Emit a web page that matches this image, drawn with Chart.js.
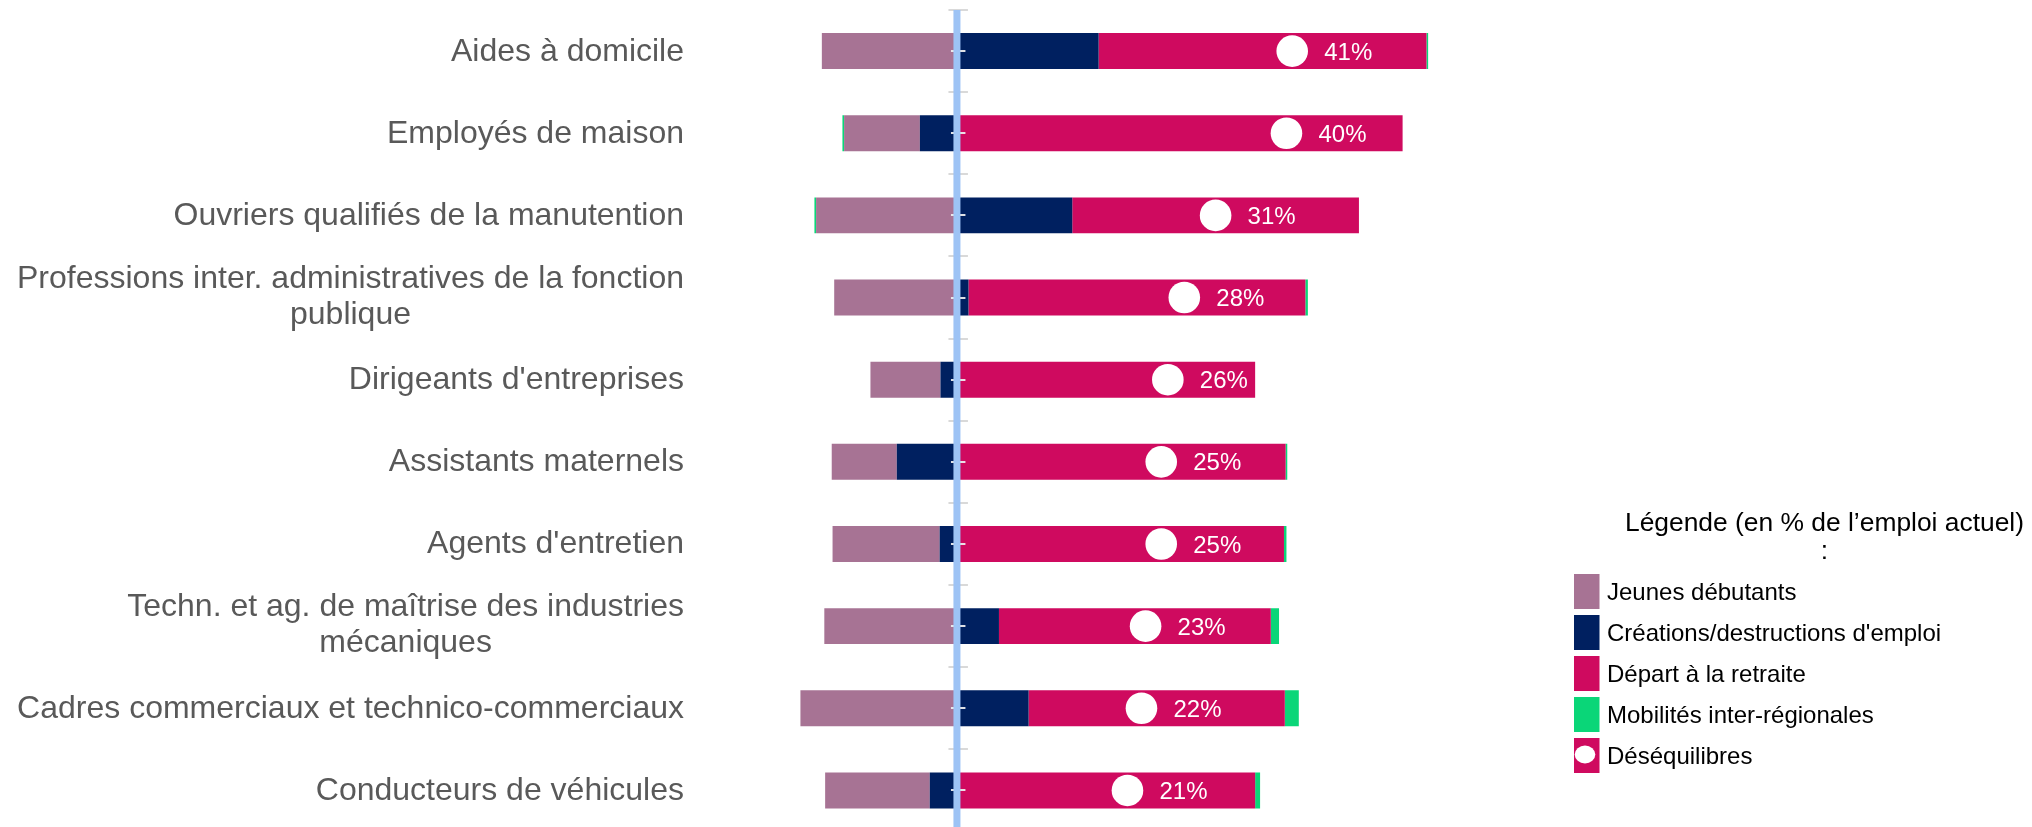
<!DOCTYPE html>
<html>
<head>
<meta charset="utf-8">
<script src="https://cdn.jsdelivr.net/npm/chart.js@4.4.1/dist/chart.umd.min.js"></script>
<style>
  html, body { margin: 0; padding: 0; overflow: hidden; background: #ffffff; }
  canvas { display: block; }
</style>
</head>
<body>
<canvas id="c" width="2032" height="840"></canvas>
<script>
// ---------- DATA ----------
const categories = [
  ['Aides à domicile'],
  ['Employés de maison'],
  ['Ouvriers qualifiés de la manutention'],
  ['Professions inter. administratives de la fonction', 'publique'],
  ["Dirigeants d'entreprises"],
  ['Assistants maternels'],
  ["Agents d'entretien"],
  ['Techn. et ag. de maîtrise des industries', 'mécaniques'],
  ['Cadres commerciaux et technico-commerciaux'],
  ['Conducteurs de véhicules']
];
const seriesNames = ['Jeunes débutants', "Créations/destructions d'emploi", 'Départ à la retraite', 'Mobilités inter-régionales', 'Déséquilibres'];
const legendTitle = ['Légende (en % de l’emploi actuel)', ':'];
const jeunesDebutants       = [-16.4, -9.2, -17.1, -14.9, -8.5, -7.9, -13.0, -16.1, -19.0, -12.7];
const creationsDestructions = [17.2, -4.5, 14.0, 1.4, -2.0, -7.3, -2.1, 5.1, 8.7, -3.3];
const departsRetraite       = [39.8, 54.1, 34.8, 40.9, 36.2, 39.9, 39.7, 33.0, 31.1, 36.2];
const mobilites             = [0.2, -0.2, -0.2, 0.3, 0.0, 0.2, 0.3, 1.0, 1.7, 0.6];
const desequilibres         = [40.7, 40.0, 31.4, 27.6, 25.6, 24.8, 24.8, 22.9, 22.4, 20.7];

// ---------- STYLE ----------
const FONT = '"Liberation Sans", Arial, Helvetica, sans-serif';
const COL_JEUNES = '#A77394';
const COL_CREA = '#002060';
const COL_RETR = '#CF0A5F';
const COL_MOB = '#0AD678';
const COL_AXIS = '#9DC3F5';
const LABEL_RIGHT = 684;

const barCommon = { stack: 'tot', barPercentage: 0.438, categoryPercentage: 1, borderWidth: 0, borderSkipped: false, indexAxis: 'y' };

const overlay = {
  id: 'overlay',
  afterDatasetsDraw(chart) {
    const ctx = chart.ctx, xs = chart.scales.x, ys = chart.scales.y;
    const x0 = xs.getPixelForValue(0);
    const top = ys.getPixelForValue(-0.5);
    const bottom = ys.getPixelForValue(categories.length - 0.5);
    ctx.save();
    // category boundary ticks (grey)
    ctx.strokeStyle = '#D9D9D9';
    ctx.lineWidth = 2;
    for (let i = 0; i <= categories.length; i++) {
      const y = Math.round(ys.getPixelForValue(i - 0.5));
      ctx.beginPath(); ctx.moveTo(x0 - 8.5, y); ctx.lineTo(x0 + 11, y); ctx.stroke();
    }
    // centre ticks (light)
    ctx.strokeStyle = 'rgba(236,236,236,0.95)';
    for (let i = 0; i < categories.length; i++) {
      const y = Math.round(ys.getPixelForValue(i));
      ctx.beginPath(); ctx.moveTo(x0 - 6, y); ctx.lineTo(x0 + 8.5, y); ctx.stroke();
    }
    // vertical zero axis
    ctx.fillStyle = COL_AXIS;
    ctx.fillRect(x0 - 3.5, top, 7, bottom - top);
    ctx.restore();
  },
  afterDraw(chart) {
    const ctx = chart.ctx, ys = chart.scales.y;
    ctx.save();
    // value labels next to the imbalance markers
    const meta = chart.getDatasetMeta(0);
    ctx.fillStyle = '#ffffff';
    ctx.font = '24px ' + FONT;
    ctx.textAlign = 'left';
    ctx.textBaseline = 'alphabetic';
    meta.data.forEach((pt, i) => {
      ctx.fillText(Math.round(desequilibres[i]) + '%', pt.x + 32, pt.y + 8.6);
    });
    // category labels
    ctx.fillStyle = '#595959';
    ctx.font = '32px ' + FONT;
    ctx.textAlign = 'center';
    categories.forEach((lines, i) => {
      const yc = ys.getPixelForValue(i);
      const w = Math.max(...lines.map(l => ctx.measureText(l).width));
      const cx = LABEL_RIGHT - w / 2;
      if (lines.length === 1) {
        ctx.fillText(lines[0], cx, yc + 9.5);
      } else {
        lines.forEach((l, k) => ctx.fillText(l, cx, yc + 8 + (k - (lines.length - 1) / 2) * 36));
      }
    });
    // legend
    ctx.fillStyle = '#000000';
    ctx.font = '26.4px ' + FONT;
    ctx.textAlign = 'center';
    ctx.fillText(legendTitle[0], 1824.5, 530.7);
    ctx.fillText(legendTitle[1], 1824.5, 558.5);
    const swCols = [COL_JEUNES, COL_CREA, COL_RETR, COL_MOB, COL_RETR];
    ctx.font = '24px ' + FONT;
    ctx.textAlign = 'left';
    seriesNames.forEach((name, k) => {
      const yt = 574 + k * 41;
      ctx.fillStyle = swCols[k];
      ctx.fillRect(1574, yt, 25.5, 35);
      if (k === 4) {
        ctx.fillStyle = '#ffffff';
        ctx.beginPath();
        ctx.ellipse(1585, yt + 16.5, 10.3, 8.9, 0, 0, Math.PI * 2);
        ctx.fill();
      }
      ctx.fillStyle = '#000000';
      ctx.fillText(name, 1607, yt + 26);
    });
    ctx.restore();
  }
};

new Chart(document.getElementById('c'), {
  type: 'bar',
  data: {
    labels: categories,
    datasets: [
      {
        type: 'scatter',
        label: seriesNames[4],
        indexAxis: 'y',
        xAxisID: 'xs',
        yAxisID: 'y',
        data: desequilibres.map((v, i) => ({ x: v, y: i })),
        pointRadius: 15.8,
        pointHoverRadius: 15.8,
        pointBorderWidth: 0,
        pointBackgroundColor: '#ffffff',
        showLine: false,
        clip: false
      },
      Object.assign({ label: seriesNames[1], data: creationsDestructions, backgroundColor: COL_CREA }, barCommon),
      Object.assign({ label: seriesNames[0], data: jeunesDebutants, backgroundColor: COL_JEUNES }, barCommon),
      Object.assign({ label: seriesNames[2], data: departsRetraite, backgroundColor: COL_RETR }, barCommon),
      Object.assign({ label: seriesNames[3], data: mobilites, backgroundColor: COL_MOB }, barCommon)
    ]
  },
  options: {
    indexAxis: 'y',
    responsive: false,
    animation: false,
    events: [],
    layout: { autoPadding: false, padding: { left: 751, right: 580.8, top: 10, bottom: 8.5 } },
    plugins: { legend: { display: false }, tooltip: { enabled: false }, title: { display: false } },
    scales: {
      x: { type: 'linear', min: -25, max: 60, stacked: true, display: false },
      xs: { type: 'linear', min: -25, max: 60, display: false, axis: 'x' },
      y: { type: 'category', stacked: true, display: false, offset: true }
    }
  },
  plugins: [overlay]
});
</script>
</body>
</html>
